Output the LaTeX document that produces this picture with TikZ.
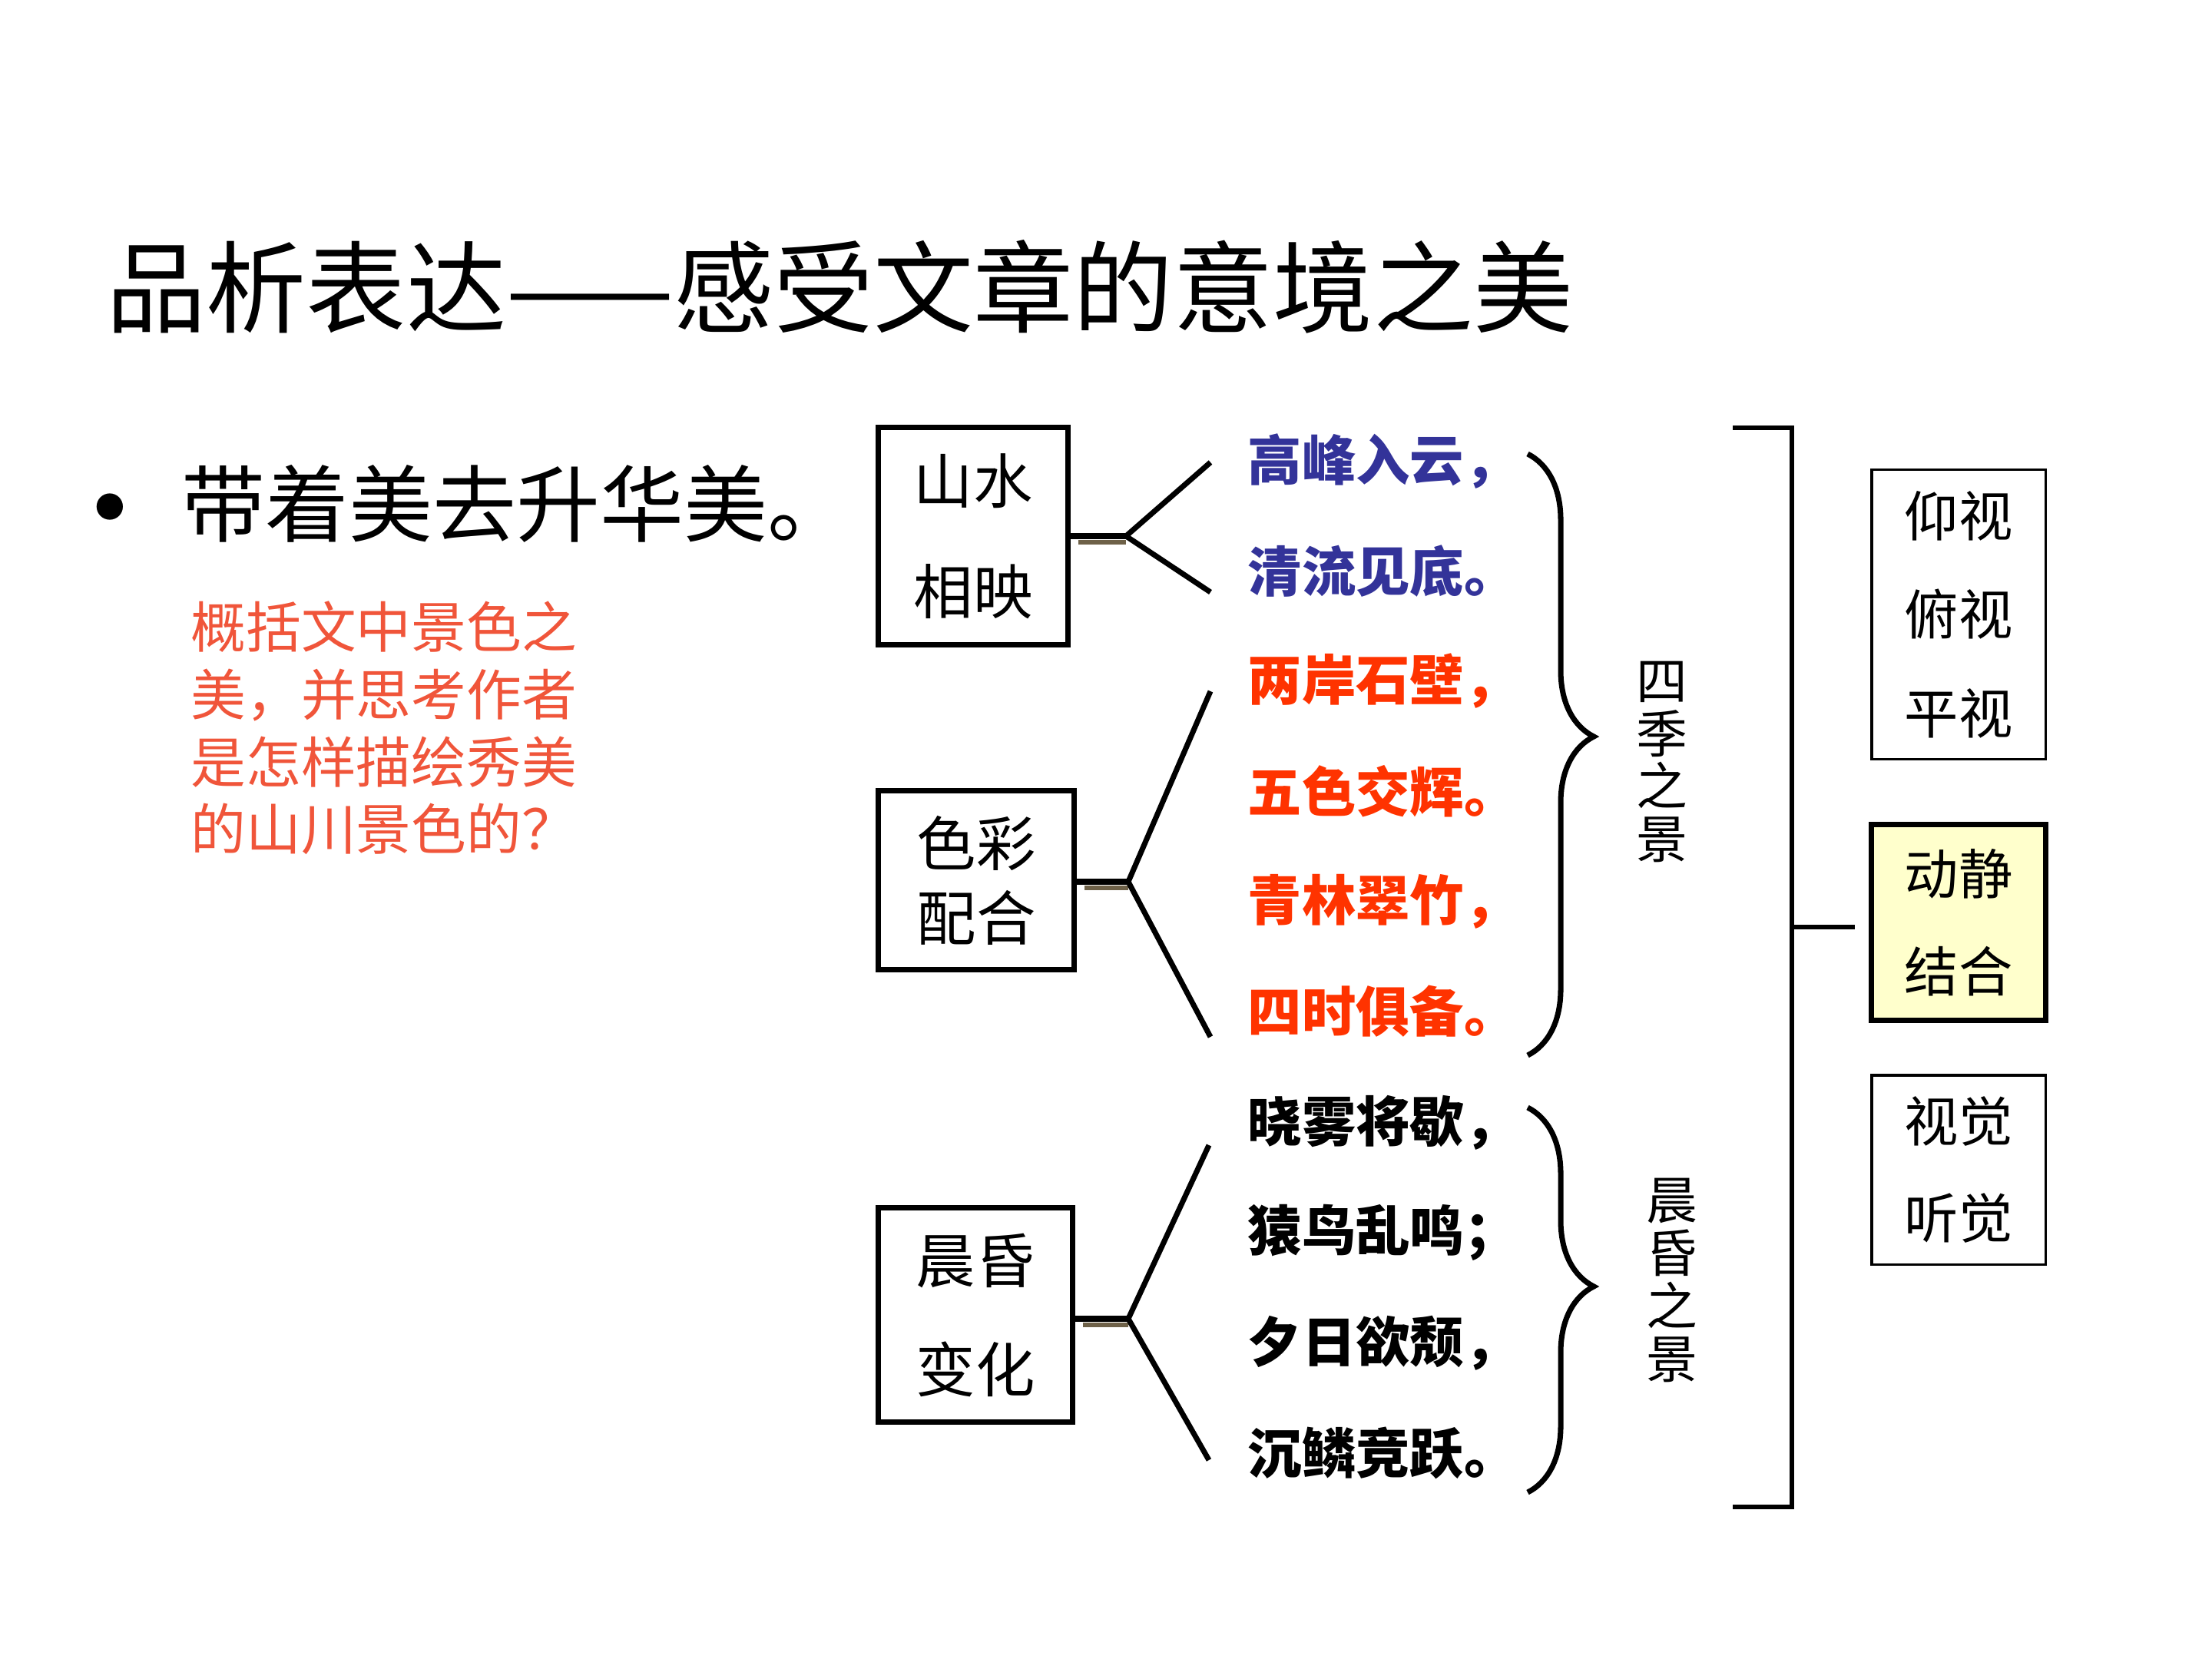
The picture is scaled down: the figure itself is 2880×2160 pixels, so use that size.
\documentclass[tikz,border=0pt]{standalone}
\usepackage{fontspec}
\setmainfont{Noto Sans CJK SC}
\usetikzlibrary{decorations.pathreplacing}
\definecolor{verseblue}{HTML}{333399}
\definecolor{versered}{HTML}{FF3300}
\definecolor{askred}{HTML}{F0553A}
\definecolor{shadowbrown}{HTML}{6E6148}
\definecolor{calmyellow}{HTML}{FFFFCC}

\begin{document}
\begin{tikzpicture}[x=0.01cm, y=-0.01cm,
    box/.style = {draw, line width=2pt, inner sep=0pt, align=center},
    thinbox/.style = {draw, line width=0.9pt, inner sep=0pt, align=center, font=\fontsize{20}{36.5}\selectfont},
    verse/.style = {anchor=west, inner sep=0pt, font=\fontsize{20}{24}\selectfont\bfseries},
    fork/.style = {line width=2pt},
    shade/.style = {shadowbrown, line width=1.5pt},
    upright/.style = {align=center, inner sep=0pt, font=\fontsize{19}{19.6}\selectfont}]
    \useasboundingbox (0,0) rectangle (2880,2160);

    % title and question
    \node[anchor=west, inner sep=0pt, font=\fontsize{37}{40}\selectfont] (title) at (138,373) {品析表达——感受文章的意境之美};
    \node[inner sep=0pt, font=\fontsize{46}{50}\selectfont] (dot) at (143,682) {•};
    \node[anchor=west, inner sep=0pt, font=\fontsize{31}{34}\selectfont] (lead) at (236,656) {带着美去升华美。};
    \node[anchor=west, inner sep=0pt, align=left, askred, font=\fontsize{20.4}{24.9}\selectfont] (ask) at (248,948)
        {概括文中景色之\\美，并思考作者\\是怎样描绘秀美\\的山川景色的？};

    % left boxes
    \node[box, minimum width=2.46cm, minimum height=2.83cm, font=\fontsize{22}{41}\selectfont] (shanshui) at (1267,698) {山水\\相映};
    \node[box, minimum width=2.54cm, minimum height=2.32cm, font=\fontsize{22}{27.6}\selectfont] (secai) at (1271,1146) {色彩\\配合};
    \node[box, minimum width=2.52cm, minimum height=2.79cm, font=\fontsize{22}{40.4}\selectfont] (chenhun) at (1270,1712) {晨昏\\变化};

    % verses
    \node[verse, verseblue] (v1) at (1624,601) {高峰入云，};
    \node[verse, verseblue] (v2) at (1624,744) {清流见底。};
    \node[verse, versered] (v3) at (1624,887) {两岸石壁，};
    \node[verse, versered] (v4) at (1624,1030) {五色交辉。};
    \node[verse, versered] (v5) at (1624,1174) {青林翠竹，};
    \node[verse, versered] (v6) at (1624,1317) {四时俱备。};
    \node[verse] (v7) at (1624,1462) {晓雾将歇，};
    \node[verse] (v8) at (1624,1605) {猿鸟乱鸣；};
    \node[verse] (v9) at (1624,1749) {夕日欲颓，};
    \node[verse] (v10) at (1624,1892) {沉鳞竞跃。};

    % forks
    \coordinate (f1) at (1466,698);
    \coordinate (f1a) at (1576,602);
    \coordinate (f1b) at (1576,771);
    \coordinate (f2) at (1469,1148);
    \coordinate (f2a) at (1576,900);
    \coordinate (f2b) at (1576,1350);
    \coordinate (f3) at (1469,1717);
    \coordinate (f3a) at (1574,1491);
    \coordinate (f3b) at (1574,1901);

    \draw[shade] ([xshift=0.1cm, yshift=-0.08cm]shanshui.east |- f1) -- ([yshift=-0.08cm]f1);
    \draw[shade] ([xshift=0.1cm, yshift=-0.08cm]secai.east |- f2) -- ([yshift=-0.08cm]f2);
    \draw[shade] ([xshift=0.1cm, yshift=-0.08cm]chenhun.east |- f3) -- ([yshift=-0.08cm]f3);

    \draw[fork] (shanshui.east |- f1) -- (f1);
    \draw[fork] (f1a) -- (f1) -- (f1b);
    \draw[fork] (secai.east |- f2) -- (f2);
    \draw[fork] (f2a) -- (f2) -- (f2b);
    \draw[fork] (chenhun.east |- f3) -- (f3);
    \draw[fork] (f3a) -- (f3) -- (f3b);

    % braces
    \draw[line width=2pt, decorate, decoration={brace, amplitude=0.86cm, aspect=0.47}] (1989,591) -- (1989,1374);
    \draw[line width=2pt, decorate, decoration={brace, amplitude=0.86cm, aspect=0.465}] (1989,1442) -- (1989,1943);
    \node[upright] (siji) at (2164,992) {四\\季\\之\\景};
    \node[upright] (chenhunjing) at (2177,1667) {晨\\昏\\之\\景};

    % big bracket
    \coordinate (bt) at (2256,557);
    \coordinate (bb) at (2256,1962);
    \coordinate (bm) at (2333,1207);
    \coordinate (tick) at (2415,1207);
    \draw[line width=1.8pt] (bt) -- (2333,557) -- (2333,1962) -- (bb);
    \draw[line width=1.8pt] (bm) -- (tick);

    % right boxes
    \node[thinbox, minimum width=2.26cm, minimum height=3.76cm] (shijiao) at (2550,800) {仰视\\俯视\\平视};
    \node[box, fill=calmyellow, minimum width=2.26cm, minimum height=2.54cm, font=\fontsize{20}{36}\selectfont] (dongjing) at (2550,1201) {动静\\结合};
    \node[thinbox, minimum width=2.26cm, minimum height=2.46cm, font=\fontsize{20}{36}\selectfont] (ganjue) at (2550,1523) {视觉\\听觉};
\end{tikzpicture}
\end{document}
